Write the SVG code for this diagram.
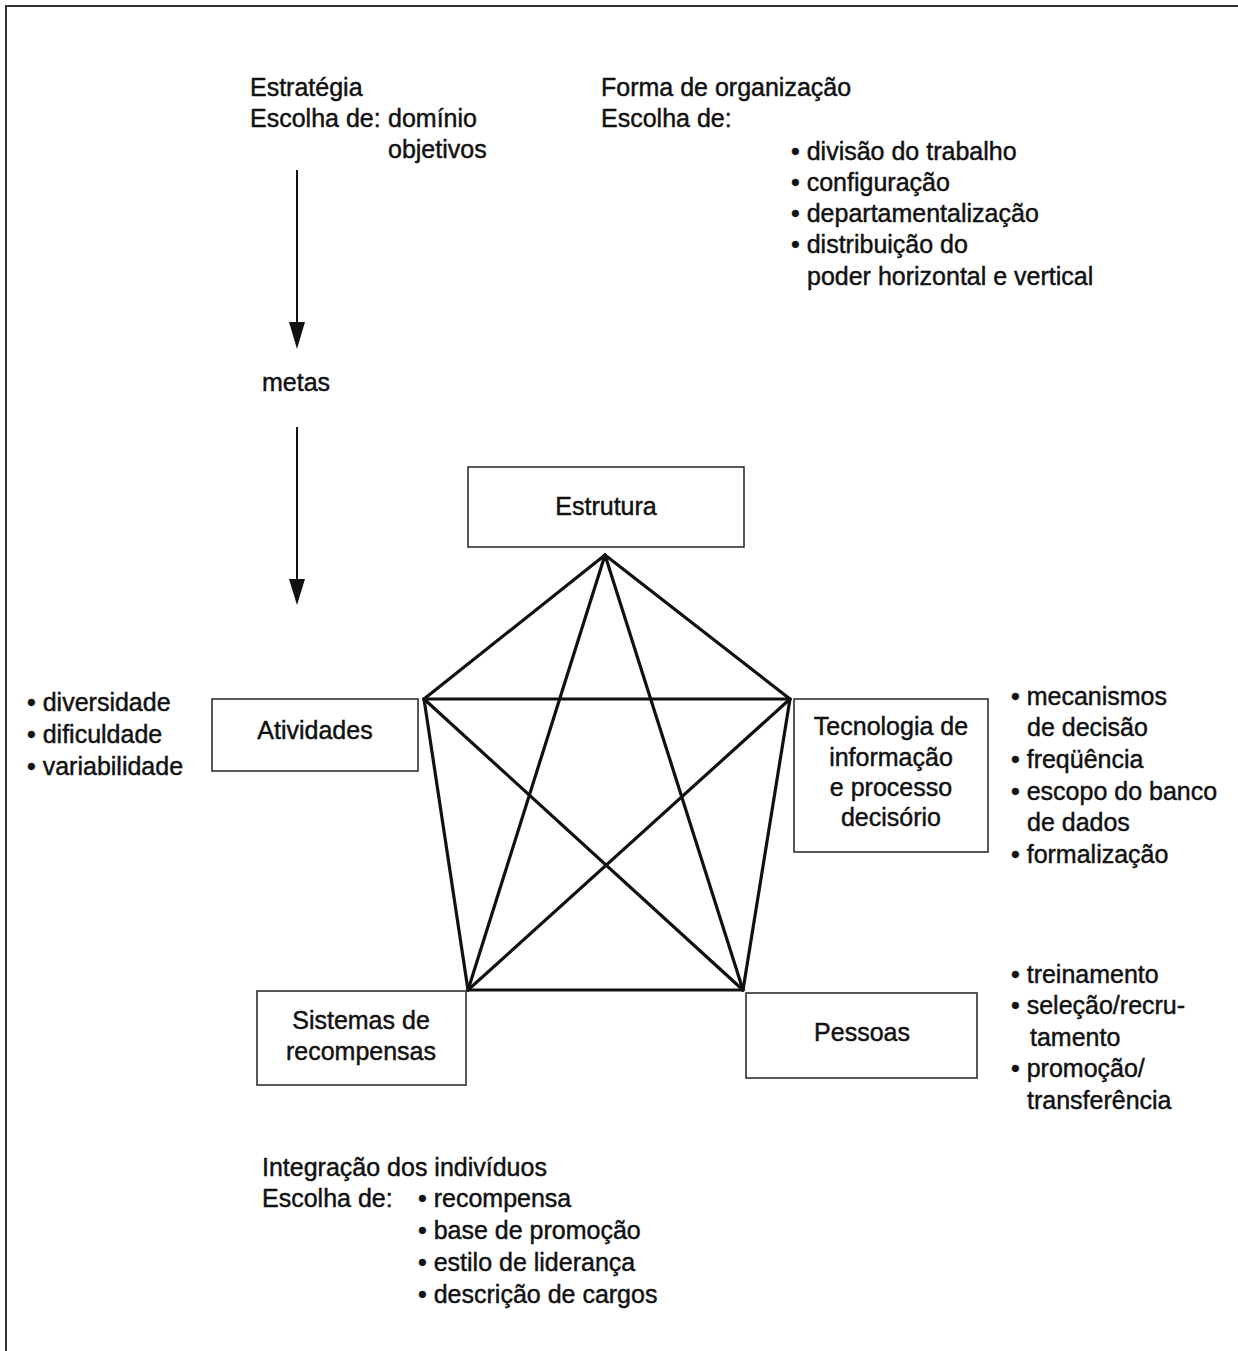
<svg xmlns="http://www.w3.org/2000/svg" width="1238" height="1351" viewBox="0 0 1238 1351">
<style>
text{font-family:"Liberation Sans",Arial,sans-serif;font-size:25px;fill:#111;stroke:#111;stroke-width:0.45}
.c{text-anchor:middle}
.box{fill:#fff;stroke:#222;stroke-width:1.5}
.edge{stroke:#111;stroke-width:3.2;stroke-linecap:round;fill:none}
.arr{stroke:#111;stroke-width:2;fill:none}
.head{fill:#111}
</style>
<rect width="1238" height="1351" fill="#fff"/>
<path d="M6,1351 L6,6 L1238,6" fill="none" stroke="#333" stroke-width="2"/>

<g id="strategy-text">
<text x="250" y="96">Estratégia</text>
<text x="250" y="127">Escolha de:</text>
<text x="388" y="127">domínio</text>
<text x="388" y="158">objetivos</text>
</g>
<g id="organization-text">
<text x="601" y="96">Forma de organização</text>
<text x="601" y="127">Escolha de:</text>
<text x="791" y="160">• divisão do trabalho</text>
<text x="791" y="191">• configuração</text>
<text x="791" y="222">• departamentalização</text>
<text x="791" y="253">• distribuição do</text>
<text x="807" y="285">poder horizontal e vertical</text>
</g>
<g id="metas">
<text x="262" y="391">metas</text>
</g>

<g id="connectors">
<line class="arr" x1="297" y1="170" x2="297" y2="325"/>
<path class="head" d="M289,322 L305,322 L297,349 Z"/>
<line class="arr" x1="297" y1="427" x2="297" y2="582"/>
<path class="head" d="M289,579 L305,579 L297,605 Z"/>
<line class="edge" x1="605" y1="555" x2="424" y2="699"/>
<line class="edge" x1="605" y1="555" x2="790" y2="699"/>
<line class="edge" x1="424" y1="699" x2="790" y2="699"/>
<line class="edge" x1="424" y1="699" x2="468" y2="990"/>
<line class="edge" x1="790" y1="699" x2="743" y2="990"/>
<line class="edge" x1="468" y1="990" x2="743" y2="990"/>
<line class="edge" x1="605" y1="555" x2="468" y2="990"/>
<line class="edge" x1="605" y1="555" x2="743" y2="990"/>
<line class="edge" x1="424" y1="699" x2="743" y2="990"/>
<line class="edge" x1="790" y1="699" x2="468" y2="990"/>
</g>

<g id="estrutura">
<rect class="box" x="468" y="467" width="276" height="80"/>
<text class="c" x="606" y="515">Estrutura</text>
</g>
<g id="atividades">
<rect class="box" x="212" y="699" width="206" height="72"/>
<text class="c" x="315" y="739">Atividades</text>
</g>
<g id="atividades-notes">
<text x="27" y="711">• diversidade</text>
<text x="27" y="743">• dificuldade</text>
<text x="27" y="775">• variabilidade</text>
</g>
<g id="tecnologia">
<rect class="box" x="794" y="699" width="194" height="153"/>
<text class="c" x="891" y="735">Tecnologia de</text>
<text class="c" x="891" y="766">informação</text>
<text class="c" x="891" y="796">e processo</text>
<text class="c" x="891" y="826">decisório</text>
</g>
<g id="tecnologia-notes">
<text x="1011" y="705">• mecanismos</text>
<text x="1027" y="736">de decisão</text>
<text x="1011" y="768">• freqüência</text>
<text x="1011" y="800">• escopo do banco</text>
<text x="1027" y="831">de dados</text>
<text x="1011" y="863">• formalização</text>
</g>
<g id="sistemas">
<rect class="box" x="257" y="991" width="209" height="94"/>
<text class="c" x="361" y="1029">Sistemas de</text>
<text class="c" x="361" y="1060">recompensas</text>
</g>
<g id="pessoas">
<rect class="box" x="746" y="993" width="231" height="85"/>
<text class="c" x="862" y="1041">Pessoas</text>
</g>
<g id="pessoas-notes">
<text x="1011" y="983">• treinamento</text>
<text x="1011" y="1014">• seleção/recru-</text>
<text x="1030" y="1046">tamento</text>
<text x="1011" y="1077">• promoção/</text>
<text x="1027" y="1109">transferência</text>
</g>
<g id="integracao-text">
<text x="262" y="1176">Integração dos indivíduos</text>
<text x="262" y="1207">Escolha de:</text>
<text x="418" y="1207">• recompensa</text>
<text x="418" y="1239">• base de promoção</text>
<text x="418" y="1271">• estilo de liderança</text>
<text x="418" y="1303">• descrição de cargos</text>
</g>
</svg>
